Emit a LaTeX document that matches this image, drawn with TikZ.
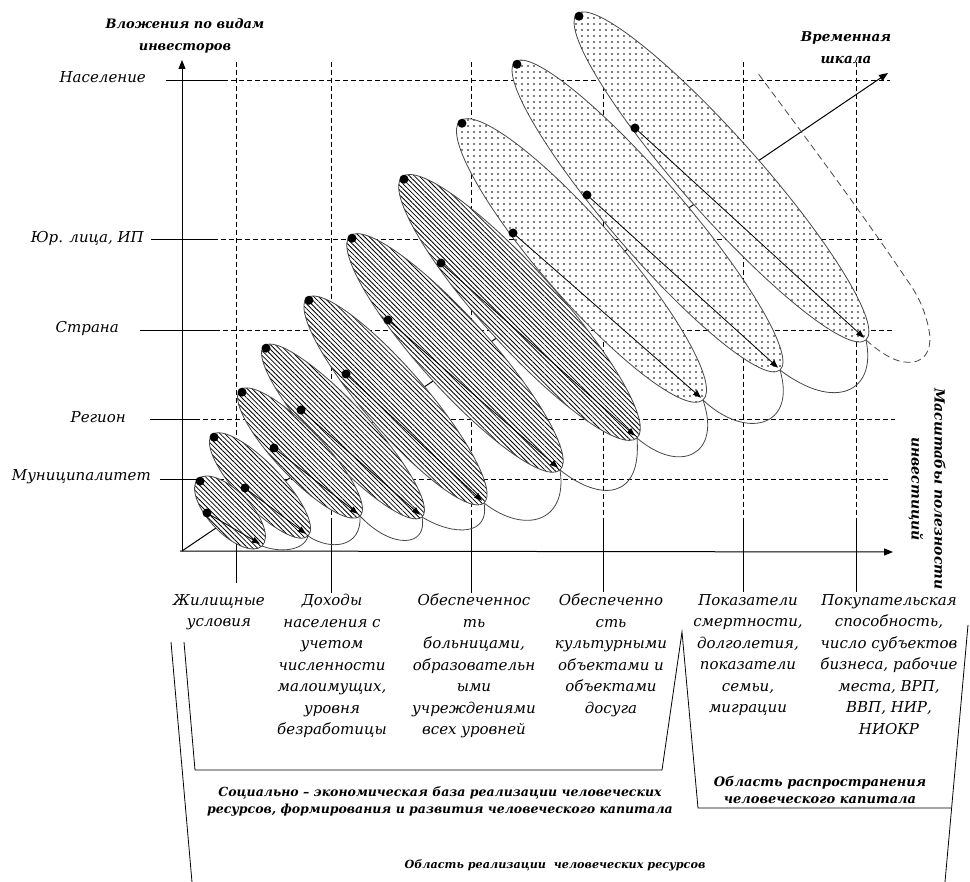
\documentclass[tikz,border=0pt]{standalone}
\usepackage{fontspec}
\setmainfont{DejaVu Serif}
\usetikzlibrary{arrows.meta,calc,patterns.meta}
\definecolor{ol}{gray}{0.28}
\newcommand\drawoval[4]{%
  \path[#1] let \p1=(#2), \p2=(#3), \n1={atan2(\y2-\y1,\x2-\x1)}, \n2={veclen(\x2-\x1,\y2-\y1)/2} in
    [rotate around={\n1:($(#2)!0.5!(#3)$)}] ($(#2)!0.5!(#3)$) ellipse [x radius={\n2*1pt}, y radius={#4*1pt}];}
\begin{document}
\begin{tikzpicture}[x=1pt,y=-1pt,
  gridln/.style={line width=0.8pt, dash pattern=on 5pt off 3pt},
  solidln/.style={line width=0.8pt},
  axisln/.style={line width=1pt, -{Triangle[length=9pt,width=7pt]}},
  hatchfill/.style={preaction={fill=white}, pattern={Lines[angle=-45,distance=3.4pt,line width=0.8pt]}, draw=ol, line width=0.8pt},
  dotfill/.style={preaction={fill=white}, pattern={Dots[distance=6pt,radius=0.85pt]}, draw=ol, line width=0.8pt},
  loopline/.style={draw=ol, line width=0.8pt},
  tipdot/.style={circle, fill=black, inner sep=0pt, minimum size=9pt},
  flow/.style={line width=0.8pt, -{Triangle[length=8pt,width=6pt]}},
  ylab/.style={font=\fontsize{15}{18}\selectfont\itshape, inner sep=0pt, anchor=east},
  col/.style={font=\fontsize{15}{21.5}\selectfont\itshape, align=center, inner sep=0pt, anchor=north},
  ttl/.style={font=\bfseries\itshape, align=center, inner sep=0pt},
]
\useasboundingbox (0,0) rectangle (970,882);

% ---------- grid ----------
\foreach \yy/\xs/\xm/\xe in {80/166/223/890, 239/151/213/885, 330/140/215/895, 419/150/195/895, 479/160/195/888} {
  \draw[solidln] (\xs,\yy) -- (\xm,\yy);
  \draw[gridln] (\xm,\yy) -- (\xe,\yy);
}
\foreach \xx/\ye in {236/583, 331/593, 471/593, 603/592, 743/592, 856/592} {
  \draw[gridln] (\xx,62) -- (\xx,520);
  \draw[solidln] (\xx,520) -- (\xx,\ye);
}

% ---------- coordinates ----------
\coordinate (O) at (182,551);
\coordinate (tend) at (888,73);
\coordinate (A1) at (198,479);  \coordinate (B1) at (262,546);  \coordinate (I1) at (207,513);
\coordinate (A2) at (212,435);  \coordinate (B2) at (308,536);  \coordinate (I2) at (245,488);
\coordinate (A3) at (240,390);  \coordinate (B3) at (360,516);  \coordinate (I3) at (274,448);
\coordinate (A4) at (264,346);  \coordinate (B4) at (422,517);  \coordinate (I4) at (301,410);
\coordinate (A5) at (307,298);  \coordinate (B5) at (484,503);  \coordinate (I5) at (346,374);
\coordinate (A6) at (350,236);  \coordinate (B6) at (560,470);  \coordinate (I6) at (388,320);
\coordinate (A7) at (402,177);  \coordinate (B7) at (637,438);  \coordinate (I7) at (441,263);
\coordinate (A8) at (460,121);  \coordinate (B8) at (703,400);  \coordinate (I8) at (513,233);
\coordinate (A9) at (515,62);   \coordinate (B9) at (780,370);  \coordinate (I9) at (587,195);
\coordinate (A10) at (577,14);  \coordinate (B10) at (866,340); \coordinate (I10) at (635,128);

% ---------- time axis ----------
\draw[axisln] (O) -- (tend);

% ---------- loops ----------
\draw[loopline] (B1) .. controls (280,553) and (304,551) .. (B2);
\draw[loopline] (B2) .. controls (330,551) and (362,548) .. (B3);
\draw[loopline] (B3) .. controls (392,550) and (428,547) .. (B4);
\draw[loopline] (B4) .. controls (455,537) and (490,535) .. (B5);
\draw[loopline] (B5) .. controls (525,535) and (568,522) .. (B6);
\draw[loopline] (B6) .. controls (600,502) and (642,500) .. (B7);
\draw[loopline] (B7) .. controls (680,475) and (722,455) .. (B8);
\draw[loopline] (B8) .. controls (745,440) and (797,428) .. (B9);
\draw[loopline] (B9) .. controls (835,412) and (877,392) .. (B10);
\coordinate (q1) at (913,362);
\coordinate (q2) at (929,330);
\coordinate (q3) at (907,280);
\coordinate (q4) at (757,72);
\draw[loopline, dash pattern=on 7pt off 4pt] (B10) .. controls (885,357) and (900,364) .. (q1)
   .. controls (928,360) and (932,345) .. (q2) .. controls (925,310) and (918,295) .. (q3)
   .. controls (860,210) and (800,130) .. (q4);

% ---------- ellipses ----------
\foreach \k/\w/\sty in {10/39/dotfill, 9/37/dotfill, 8/39/dotfill, 7/38/hatchfill, 6/35/hatchfill, 5/31/hatchfill, 4/27/hatchfill, 3/24/hatchfill, 2/22/hatchfill, 1/21/hatchfill} {
  \drawoval{\sty}{A\k}{B\k}{\w}
  \coordinate (E\k) at ($(B\k)!3pt!(A\k)$);
  \node[tipdot] (dI\k) at (I\k) {};
  \draw[flow] (dI\k.center) -- (E\k);
  \node[tipdot] (dA\k) at ($(A\k)!3pt!(B\k)$) {};
}

% ---------- axes ----------
\coordinate (yend) at (182,60);
\coordinate (xbeg) at (180,551);
\coordinate (xend) at (893,552);
\draw[axisln] (O) -- (yend);
\draw[axisln] (xbeg) -- (xend);

% ---------- axis labels ----------
\node[ttl, font=\fontsize{13}{22}\selectfont\bfseries\itshape] (tv) at (185,36) {Вложения по видам\\инвесторов};
\node[ttl, font=\fontsize{13.5}{22}\selectfont\bfseries\itshape] (tt) at (846,48) {Временная\\шкала};
\node[ttl, font=\fontsize{14}{23}\selectfont\bfseries\itshape, rotate=-90] (tm) at (927,489) {Масштабы полезности\\инвестиций};

\node[ylab] (l1) at (146,77) {Население};
\node[ylab] (l2) at (144,238) {Юр. лица, ИП};
\node[ylab] (l3) at (119,328) {Страна};
\node[ylab] (l4) at (126,417) {Регион};
\node[ylab] (l5) at (151,477) {Муниципалитет};

% ---------- column texts ----------
\node[col] (c1) at (219,594) {Жилищные\\условия};
\node[col] (c2) at (332,594) {Доходы\\населения с\\учетом\\численности\\малоимущих,\\уровня\\безработицы};
\node[col] (c3) at (474,594) {Обеспеченнос\\ть\\больницами,\\образовательн\\ыми\\учреждениями\\всех уровней};
\node[col] (c4) at (611,594) {Обеспеченно\\сть\\культурными\\объектами и\\объектами\\досуга};
\node[col] (c5) at (748,594) {Показатели\\смертности,\\долголетия,\\показатели\\семьи,\\миграции};
\node[col] (c6) at (889,594) {Покупательская\\способность,\\число субъектов\\бизнеса, рабочие\\места, ВРП,\\ВВП, НИР,\\НИОКР};

% ---------- bottom brackets ----------
\coordinate (p1) at (171,642);  \coordinate (p2) at (192,882);
\coordinate (p3) at (184,642);  \coordinate (p4) at (195,770);
\coordinate (p5) at (662,770);  \coordinate (p6) at (682,632);
\coordinate (p7) at (698,808);  \coordinate (p8) at (951,808);
\coordinate (p9) at (968,625);  \coordinate (p10) at (945,882);
\draw[solidln] (p1) -- (p2);
\draw[solidln] (p3) -- (p4) -- (p5) -- (p6) -- (p7) -- (p8);
\draw[solidln] (p9) -- (p10);

\node[ttl, font=\fontsize{12.5}{17}\selectfont\bfseries\itshape] (ts) at (440,801) {Социально – экономическая база реализации человеческих\\ресурсов, формирования и развития человеческого капитала};
\node[ttl, font=\fontsize{13}{17}\selectfont\bfseries\itshape] (tr) at (820,790) {Область распространения\\человеческого капитала};
\node[ttl, font=\fontsize{11.2}{15}\selectfont\bfseries\itshape] (tb) at (555,865) {Область реализации\ \ человеческих ресурсов};
\end{tikzpicture}
\end{document}
